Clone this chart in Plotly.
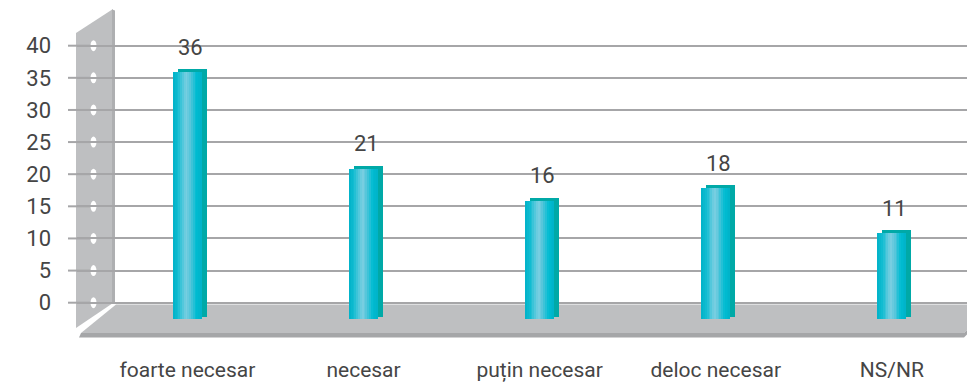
import plotly.graph_objects as go

# ---------------- data ----------------
categories = ["foarte necesar", "necesar", "puțin necesar", "deloc necesar", "NS/NR"]
values = [36, 21, 16, 18, 11]
y_ticks = [0, 5, 10, 15, 20, 25, 30, 35, 40]

# ---------------- layout geometry (page pixels) ----------------
PAGE_W, PAGE_H = 975, 385
O = 8                                 # default body margin of the html page
W, H = PAGE_W - O, PAGE_H - O         # figure size
L, R, T, B = 77, 975, 9, 341          # plot area in page pixels
XR = [-0.627, 4.472]
YR = [-(B - 302.7) / 6.425, (302.7 - T) / 6.425]


def pxx(p):
    return (p - L) / (R - L)


def pxy(p):
    return (B - p) / (B - T)


def poly(pts):
    return "M " + " L ".join(f"{pxx(x):.5f},{pxy(y):.5f}" for x, y in pts) + " Z"


unit_x = (R - L) / (XR[1] - XR[0])
half = 14.5 / unit_x          # half width of front face
dx = 5 / unit_x               # depth offset of back face
front_base, back_base = -2.58, -2.18
front_top_adj, back_top_adj = -0.12, 0.30

xs = list(range(len(categories)))
TEXT = "#454545"
FONT = "Roboto"

fig = go.Figure()

# back (depth) face of the bars
fig.add_trace(go.Bar(
    x=xs, y=[v + back_top_adj - back_base for v in values], base=back_base,
    width=2 * half, offset=-half + dx,
    marker=dict(color="#00A9A7", line=dict(width=0)),
    hoverinfo="skip", showlegend=False,
))

# front face as gradient strips (cylinder look)
stops = [(0.0, (0, 178, 200)), (0.18, (20, 190, 210)), (0.45, (124, 207, 226)),
         (0.6, (85, 198, 219)), (0.8, (0, 188, 210)), (1.0, (0, 178, 201))]


def grad(f):
    for (f0, c0), (f1, c1) in zip(stops[:-1], stops[1:]):
        if f0 <= f <= f1:
            t = (f - f0) / (f1 - f0)
            c = [round(a + (b - a) * t) for a, b in zip(c0, c1)]
            return f"rgb({c[0]},{c[1]},{c[2]})"
    return "rgb(0,178,200)"


n = 16
sw = 2 * half / n
for k in range(n):
    fig.add_trace(go.Bar(
        x=xs, y=[v + front_top_adj - front_base for v in values], base=front_base,
        width=sw * (1.3 if k < n - 1 else 1.0), offset=-half + k * sw,
        marker=dict(color=grad((k + 0.5) / n), line=dict(width=0)),
        hoverinfo="skip", showlegend=False,
    ))

# ---------------- decorative 3D wall and floor ----------------
shapes = []
WALL = "#BEBFC1"
shapes.append(dict(type="path", xref="paper", yref="paper", layer="between",
                   path=poly([(76, 33), (113, 9), (113, 303), (76, 328)]),
                   fillcolor=WALL, line=dict(width=0)))
shapes.append(dict(type="path", xref="paper", yref="paper", layer="between",
                   path=poly([(112, 9.5), (115, 10.5), (115, 302), (112, 303)]),
                   fillcolor="#AEAFB1", line=dict(width=0)))
# floor top
shapes.append(dict(type="path", xref="paper", yref="paper", layer="between",
                   path=poly([(116, 304.5), (994, 304.5), (964, 333), (81, 333)]),
                   fillcolor=WALL, line=dict(width=0)))
# floor front edge and right edge
shapes.append(dict(type="path", xref="paper", yref="paper", layer="between",
                   path=poly([(81, 333), (964, 333), (964, 337.5), (79, 337.5)]),
                   fillcolor="#A5A6A8", line=dict(width=0)))
shapes.append(dict(type="path", xref="paper", yref="paper", layer="between",
                   path=poly([(964, 333), (994, 304.5), (998, 304.5), (964, 337.5)]),
                   fillcolor="#A5A6A8", line=dict(width=0)))
# gridline stubs over the wall and the white dots
for t in y_ticks:
    shapes.append(dict(type="line", xref="paper", yref="y", layer="between",
                       x0=pxx(68), x1=pxx(92), y0=t, y1=t,
                       line=dict(color="#A6A6A8", width=2)))
for t in y_ticks:
    shapes.append(dict(type="circle", xref="paper", yref="y", layer="between",
                       x0=pxx(90.5), x1=pxx(96.5), y0=t - 0.85, y1=t + 0.85,
                       fillcolor="white", line=dict(width=0)))

# ---------------- data labels ----------------
annotations = []
for i, v in enumerate(values):
    annotations.append(dict(x=i, y=v + back_top_adj, xref="x", yref="y",
                            text=str(v), showarrow=False, xanchor="center",
                            yanchor="middle", xshift=3, yshift=22,
                            font=dict(family=FONT, size=22, color=TEXT)))

fig.update_layout(
    width=W, height=H,
    margin=dict(l=L - O, r=PAGE_W - R, t=T - O, b=PAGE_H - B, pad=0),
    paper_bgcolor="white", plot_bgcolor="white",
    barmode="overlay", bargap=0,
    showlegend=False,
    shapes=shapes, annotations=annotations,
    font=dict(family=FONT, color=TEXT),
    xaxis=dict(range=XR, tickvals=xs, ticktext=categories, showgrid=False,
               zeroline=False, showline=False, ticks="", ticklabelstandoff=14,
               tickfont=dict(family=FONT, size=21, color=TEXT), fixedrange=True),
    yaxis=dict(range=YR, tickvals=y_ticks, showgrid=True, gridcolor="#A6A6A8",
               gridwidth=2, zeroline=False, showline=False, ticks="",
               ticklabelstandoff=25,
               tickfont=dict(family=FONT, size=22, color=TEXT), fixedrange=True),
)

fig.write_html("out.html")
